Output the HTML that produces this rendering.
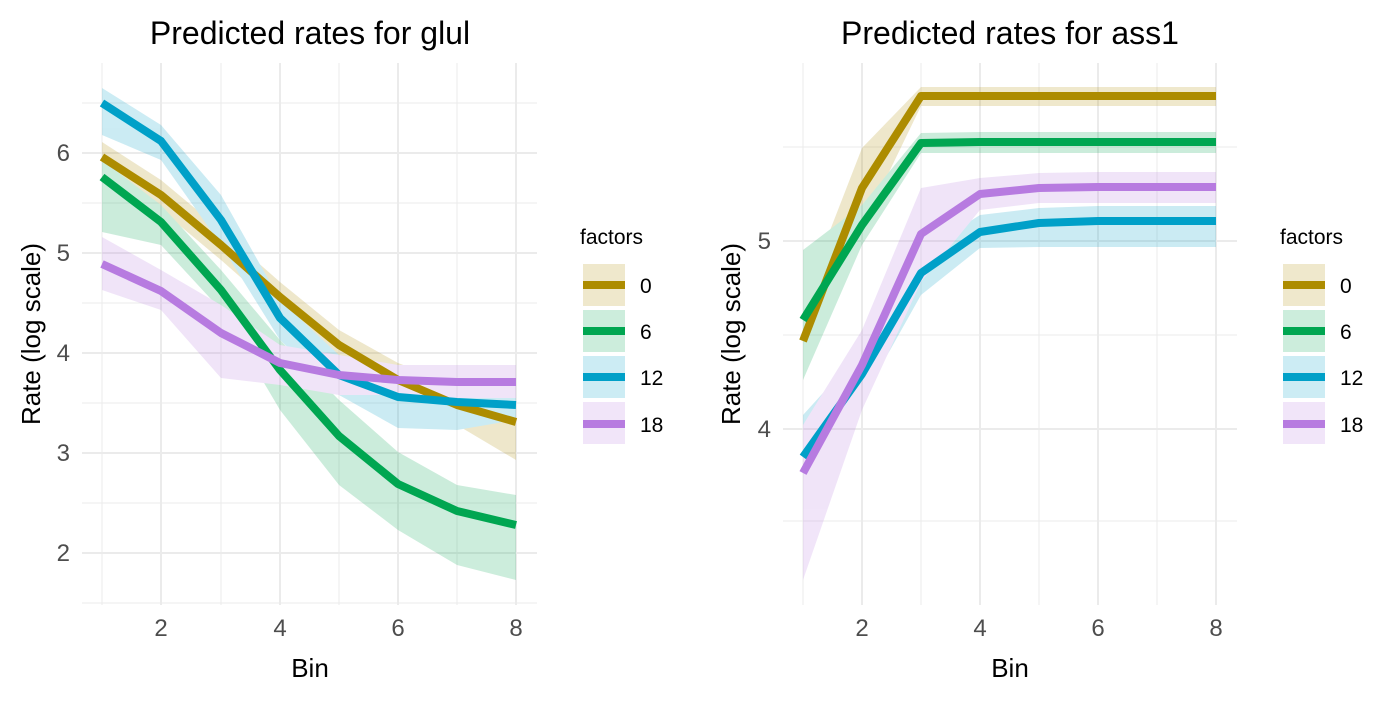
<!DOCTYPE html>
<html><head><meta charset="utf-8"><style>
body{margin:0;background:#fff}
text{font-family:"Liberation Sans",Arial,sans-serif}
</style></head><body>
<svg width="1400" height="700" viewBox="0 0 1400 700" xmlns="http://www.w3.org/2000/svg">
<rect width="1400" height="700" fill="#fff"/>
<!-- LEFT PANEL -->
<g stroke="#ebebeb" stroke-width="1">
<line x1="82" x2="537" y1="103" y2="103"/><line x1="82" x2="537" y1="203" y2="203"/><line x1="82" x2="537" y1="303" y2="303"/><line x1="82" x2="537" y1="403" y2="403"/><line x1="82" x2="537" y1="503" y2="503"/><line x1="82" x2="537" y1="603" y2="603"/>
<line x1="102" x2="102" y1="63" y2="605"/><line x1="221" x2="221" y1="63" y2="605"/><line x1="339" x2="339" y1="63" y2="605"/><line x1="457" x2="457" y1="63" y2="605"/>
</g>
<g stroke="#ebebeb" stroke-width="2">
<line x1="82" x2="537" y1="153" y2="153"/><line x1="82" x2="537" y1="253" y2="253"/><line x1="82" x2="537" y1="353" y2="353"/><line x1="82" x2="537" y1="453" y2="453"/><line x1="82" x2="537" y1="553" y2="553"/>
<line x1="161" x2="161" y1="63" y2="605"/><line x1="280" x2="280" y1="63" y2="605"/><line x1="398" x2="398" y1="63" y2="605"/><line x1="516" x2="516" y1="63" y2="605"/>
</g>
<g opacity="0.2">
<polygon fill="#AD8C00" points="102,142 161,180 221,230 280,282 339,330 398,363 457,385 516,392 516,460 457,425 398,397 339,360 280,312 221,260 161,210 102,172"/>
<polygon fill="#00A651" points="102,160 161,205 221,270 280,340 339,400 398,452 457,485 516,495 516,580 457,565 398,530 339,485 280,410 221,310 161,245 102,232"/>
<polygon fill="#00A0C8" points="102,88 161,125 221,195 280,300 339,355 398,372 457,385 516,390 516,420 457,430 398,428 339,395 280,340 221,245 161,160 102,135"/>
<polygon fill="#B77BE0" points="102,237 161,270 221,305 280,345 339,355 398,365 457,365 516,365 516,398 457,398 398,395 339,395 280,385 221,378 161,310 102,290"/>
</g>
<g fill="none" stroke-width="8" stroke-linejoin="round">
<polyline stroke="#AD8C00" points="102,157 161,195 221,245 280,297 339,345 398,380 457,405 516,422"/>
<polyline stroke="#00A651" points="102,177 161,222 221,290 280,370 339,436 398,484 457,511 516,525"/>
<polyline stroke="#00A0C8" points="102,103 161,141 221,220 280,318 339,375 398,397 457,402 516,405"/>
<polyline stroke="#B77BE0" points="102,264 161,291 221,333 280,363 339,375 398,380 457,382 516,382"/>
</g>
<g fill="#4d4d4d" font-size="24" text-anchor="end">
<text x="70" y="161">6</text><text x="70" y="261">5</text><text x="70" y="361">4</text><text x="70" y="461">3</text><text x="70" y="561">2</text>
</g>
<g fill="#4d4d4d" font-size="24" text-anchor="middle">
<text x="161" y="636">2</text><text x="280" y="636">4</text><text x="398" y="636">6</text><text x="516" y="636">8</text>
</g>
<text x="310" y="677" font-size="26" text-anchor="middle">Bin</text>
<text transform="translate(40,334) rotate(-90)" font-size="26" text-anchor="middle">Rate (log scale)</text>
<text x="310" y="44" font-size="32" text-anchor="middle">Predicted rates for glul</text>
<!-- left legend -->
<text x="580" y="244" font-size="21">factors</text>
<g>
<rect x="583" y="264" width="42" height="42" fill="#AD8C00" opacity="0.2"/><line x1="583" x2="625" y1="285" y2="285" stroke="#AD8C00" stroke-width="8"/>
<rect x="583" y="310" width="42" height="42" fill="#00A651" opacity="0.2"/><line x1="583" x2="625" y1="331" y2="331" stroke="#00A651" stroke-width="8"/>
<rect x="583" y="356" width="42" height="42" fill="#00A0C8" opacity="0.2"/><line x1="583" x2="625" y1="377" y2="377" stroke="#00A0C8" stroke-width="8"/>
<rect x="583" y="402" width="42" height="42" fill="#B77BE0" opacity="0.2"/><line x1="583" x2="625" y1="424" y2="424" stroke="#B77BE0" stroke-width="8"/>
</g>
<g font-size="21"><text x="640" y="293">0</text><text x="640" y="339">6</text><text x="640" y="385">12</text><text x="640" y="432">18</text></g>

<!-- RIGHT PANEL -->
<g stroke="#ebebeb" stroke-width="1">
<line x1="783" x2="1237" y1="147" y2="147"/><line x1="783" x2="1237" y1="335" y2="335"/><line x1="783" x2="1237" y1="521" y2="521"/>
<line x1="803" x2="803" y1="63" y2="605"/><line x1="921" x2="921" y1="63" y2="605"/><line x1="1039" x2="1039" y1="63" y2="605"/><line x1="1157" x2="1157" y1="63" y2="605"/>
</g>
<g stroke="#ebebeb" stroke-width="2">
<line x1="783" x2="1237" y1="241" y2="241"/><line x1="783" x2="1237" y1="429" y2="429"/>
<line x1="862" x2="862" y1="63" y2="605"/><line x1="980" x2="980" y1="63" y2="605"/><line x1="1098" x2="1098" y1="63" y2="605"/><line x1="1216" x2="1216" y1="63" y2="605"/>
</g>
<g opacity="0.2">
<polygon fill="#AD8C00" points="803,300 862,148 921,87 980,87 1039,87 1098,87 1157,87 1216,87 1216,106 1157,106 1098,106 1039,106 980,106 921,106 862,228 803,380"/>
<polygon fill="#00A651" points="803,250 862,205 921,133 980,132 1039,132 1098,132 1157,132 1216,132 1216,153 1157,153 1098,153 1039,153 980,153 921,153 862,245 803,380"/>
<polygon fill="#00A0C8" points="803,415 862,350 921,252 980,215 1039,208 1098,206 1157,206 1216,206 1216,247 1157,247 1098,247 1039,247 980,248 921,295 862,400 803,500"/>
<polygon fill="#B77BE0" points="803,425 862,330 921,188 980,178 1039,173 1098,172 1157,172 1216,172 1216,203 1157,203 1098,203 1039,203 980,210 921,282 862,410 803,580"/>
</g>
<g fill="none" stroke-width="8" stroke-linejoin="round">
<polyline stroke="#AD8C00" points="803,341 862,188 921,96 980,96 1039,96 1098,96 1157,96 1216,96"/>
<polyline stroke="#00A651" points="803,320 862,225 921,143 980,142 1039,142 1098,142 1157,142 1216,142"/>
<polyline stroke="#00A0C8" points="803,457 862,374 921,273 980,232 1039,223 1098,221 1157,221 1216,221"/>
<polyline stroke="#B77BE0" points="803,473 862,365 921,234 980,194 1039,188 1098,187 1157,187 1216,187"/>
</g>
<g fill="#4d4d4d" font-size="24" text-anchor="end">
<text x="771" y="249">5</text><text x="771" y="437">4</text>
</g>
<g fill="#4d4d4d" font-size="24" text-anchor="middle">
<text x="862" y="636">2</text><text x="980" y="636">4</text><text x="1098" y="636">6</text><text x="1216" y="636">8</text>
</g>
<text x="1010" y="677" font-size="26" text-anchor="middle">Bin</text>
<text transform="translate(740,334) rotate(-90)" font-size="26" text-anchor="middle">Rate (log scale)</text>
<text x="1010" y="44" font-size="32" text-anchor="middle">Predicted rates for ass1</text>
<text x="1280" y="244" font-size="21">factors</text>
<g>
<rect x="1283" y="264" width="42" height="42" fill="#AD8C00" opacity="0.2"/><line x1="1283" x2="1325" y1="285" y2="285" stroke="#AD8C00" stroke-width="8"/>
<rect x="1283" y="310" width="42" height="42" fill="#00A651" opacity="0.2"/><line x1="1283" x2="1325" y1="331" y2="331" stroke="#00A651" stroke-width="8"/>
<rect x="1283" y="356" width="42" height="42" fill="#00A0C8" opacity="0.2"/><line x1="1283" x2="1325" y1="377" y2="377" stroke="#00A0C8" stroke-width="8"/>
<rect x="1283" y="402" width="42" height="42" fill="#B77BE0" opacity="0.2"/><line x1="1283" x2="1325" y1="424" y2="424" stroke="#B77BE0" stroke-width="8"/>
</g>
<g font-size="21"><text x="1340" y="293">0</text><text x="1340" y="339">6</text><text x="1340" y="385">12</text><text x="1340" y="432">18</text></g>
</svg>
</body></html>
